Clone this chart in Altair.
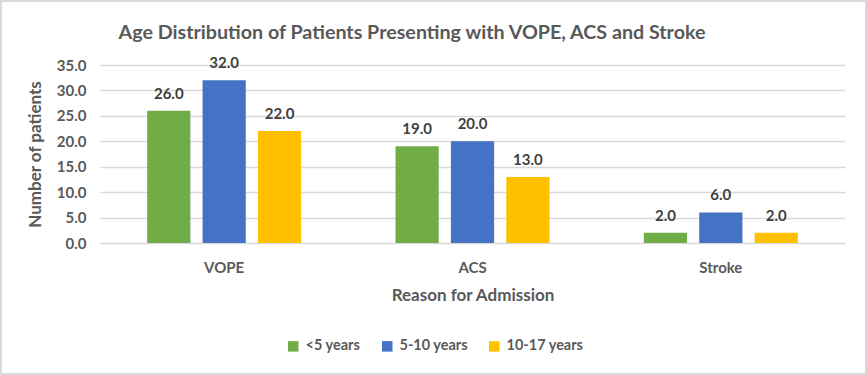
import altair as alt
import pandas as pd

categories = ["VOPE", "ACS", "Stroke"]
groups = ["<5 years", "5-10 years", "10-17 years"]
lt5 = [26.0, 19.0, 2.0]
y5_10 = [32.0, 20.0, 6.0]
y10_17 = [22.0, 13.0, 2.0]
colors = ["#70AD47", "#4472C4", "#FFC000"]
title_text = "Age Distribution of Patients Presenting with VOPE, ACS and Stroke"

rows = []
for i, c in enumerate(categories):
    for g, vals in zip(groups, [lt5, y5_10, y10_17]):
        rows.append({"Reason": c, "Group": g, "Value": vals[i]})
df = pd.DataFrame(rows)

FONT = "Lato"
TXT = "#595959"
W, H = 745, 178

x = alt.X("Reason:N", sort=categories,
          scale=alt.Scale(paddingInner=0.38, paddingOuter=0.19),
          axis=alt.Axis(title="Reason for Admission", labelAngle=0, domain=False, ticks=False,
                        labelPadding=17, titlePadding=12, labelFontSize=15, titleFontSize=17,
                        labelColor=TXT, titleColor=TXT, labelFont=FONT, titleFont=FONT,
                        labelFontWeight="bold", titleFontWeight="bold"))
xo = alt.XOffset("Group:N", sort=groups, scale=alt.Scale(paddingInner=0.22, paddingOuter=0))
y = alt.Y("Value:Q", scale=alt.Scale(domain=[0, 35], nice=False),
          axis=alt.Axis(title="Number of patients", values=[0, 5, 10, 15, 20, 25, 30, 35], format=".1f",
                        labelOverlap=False, labelBound=False,
                        domain=False, ticks=False, labelPadding=14, titlePadding=12,
                        gridColor="#D9D9D9", gridWidth=1.5, labelFontSize=15, titleFontSize=17,
                        labelColor=TXT, titleColor=TXT, labelFont=FONT, titleFont=FONT,
                        labelFontWeight="bold", titleFontWeight="bold"))
color = alt.Color("Group:N", sort=groups, scale=alt.Scale(domain=groups, range=colors),
                  legend=alt.Legend(title=None, orient="none", legendX=186, legendY=274,
                                    direction="horizontal", symbolType="square", symbolSize=110,
                                    symbolStrokeWidth=0, labelFontSize=14.5, labelFont=FONT,
                                    labelFontWeight="bold", labelColor=TXT, columnPadding=19,
                                    labelOffset=5))

bars = alt.Chart(df).mark_bar().encode(x=x, xOffset=xo, y=y, color=color)
labels = alt.Chart(df).mark_text(dy=-9, baseline="bottom", font=FONT, fontSize=15,
                                 fontWeight="bold", color="#404040").encode(
    x=x, xOffset=xo, y=y, text=alt.Text("Value:Q", format=".1f"))
border = alt.Chart(df).mark_rect(fill=None, stroke="#D9D9D9", strokeWidth=2).encode(
    x=alt.value(-99), x2=alt.value(W + 21), y=alt.value(-64), y2=alt.value(H + 131))
title = alt.Chart(pd.DataFrame({"t": [title_text]})).mark_text(
    font=FONT, fontSize=19.7, fontWeight="bold", color=TXT, align="center", baseline="middle").encode(
    text="t:N", x=alt.value(312), y=alt.value(-32))

chart = alt.layer(border, bars, labels, title).properties(
    width=W, height=H,
).configure(
    autosize=alt.AutoSizeParams(type="none"),
    padding={"left": 100, "top": 65, "right": 22, "bottom": 132},
    background="white",
).configure_view(stroke=None)

chart.save("out.html", embed_options={"renderer": "svg", "actions": False})
